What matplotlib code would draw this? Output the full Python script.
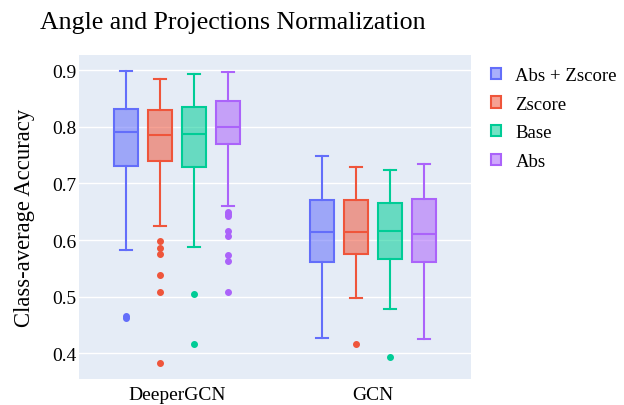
import matplotlib
matplotlib.use("Agg")
import matplotlib.pyplot as plt
import numpy as np
from matplotlib.patches import Patch

plt.rcParams['font.family'] = ['Liberation Serif', 'DejaVu Serif']

models = ["DeeperGCN", "GCN"]
methods = ["Abs + Zscore", "Zscore", "Base", "Abs"]
colors = ["#636EFA", "#EF553B", "#00CC96", "#AB63FA"]

# per method: [DeeperGCN, GCN]
whislo = [[0.583, 0.427], [0.624, 0.498], [0.588, 0.478], [0.661, 0.426]]
q1     = [[0.731, 0.561], [0.739, 0.575], [0.729, 0.566], [0.770, 0.562]]
median = [[0.791, 0.615], [0.785, 0.615], [0.787, 0.616], [0.800, 0.610]]
q3     = [[0.831, 0.671], [0.829, 0.671], [0.834, 0.665], [0.846, 0.673]]
whishi = [[0.898, 0.749], [0.884, 0.729], [0.893, 0.723], [0.897, 0.734]]
fliers = [
    [[0.466, 0.463], []],
    [[0.598, 0.586, 0.575, 0.539, 0.508, 0.384], [0.417]],
    [[0.505, 0.417], [0.393]],
    [[0.650, 0.646, 0.642, 0.616, 0.608, 0.573, 0.564, 0.509], []],
]
yticks = [0.4, 0.5, 0.6, 0.7, 0.8, 0.9]

fig = plt.figure(figsize=(6.24, 4.06), dpi=100)
ax = fig.add_axes([79/624, 1-380/406, (471-79)/624, (380-56)/406])
ax.set_facecolor("#E5ECF6")
for s in ax.spines.values():
    s.set_visible(False)

slot = 0.7 / 4
bw = slot * 0.7
for m, (name, col) in enumerate(zip(methods, colors)):
    stats = []
    pos = []
    for g in range(len(models)):
        stats.append(dict(med=median[m][g], q1=q1[m][g], q3=q3[m][g],
                          whislo=whislo[m][g], whishi=whishi[m][g],
                          fliers=fliers[m][g]))
        pos.append(g + (m - 1.5) * slot)
    ax.bxp(stats, positions=pos, widths=bw, patch_artist=True, showfliers=True,
           boxprops=dict(facecolor=matplotlib.colors.to_rgba(col, 0.55), edgecolor=col, linewidth=1.5),
           medianprops=dict(color=col, linewidth=1.5),
           whiskerprops=dict(color=col, linewidth=1.5),
           capprops=dict(color=col, linewidth=1.5),
           flierprops=dict(marker='o', markerfacecolor=col, markeredgecolor=col, markersize=4))

ax.set_xlim(-0.5, 1.5)
ax.set_ylim(0.355, 0.9265)
ax.set_xticks(range(len(models)))
ax.set_xticklabels(models)
ax.set_yticks(yticks)
ax.set_yticklabels([f"{t:.1f}" for t in yticks])
ax.tick_params(length=0, labelsize=14)
ax.tick_params(axis='y', pad=2)
ax.tick_params(axis='x', pad=5)
ax.grid(axis='y', color='white', linewidth=1)
ax.set_axisbelow(True)
ax.set_ylabel("Class-average Accuracy", fontsize=16.3, labelpad=12)

fig.text(40/624, 1-29/406, "Angle and Projections Normalization", fontsize=18.6, ha='left', va='baseline')

handles = [Patch(facecolor=matplotlib.colors.to_rgba(c, 0.55), edgecolor=c, linewidth=1.5) for c in colors]
fig.legend(handles, methods, loc='upper left', bbox_to_anchor=(491/624, 1-68/406),
           frameon=False, fontsize=13.5, handlelength=0.55, handleheight=0.55,
           handletextpad=0.75, labelspacing=0.62, borderaxespad=0, borderpad=0)

fig.savefig("out.png", dpi=100)
